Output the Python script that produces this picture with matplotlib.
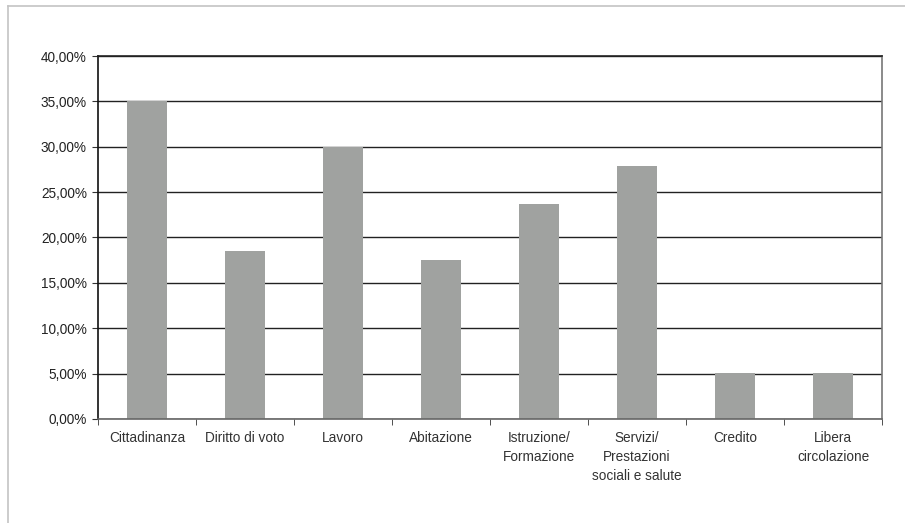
import matplotlib.pyplot as plt
import numpy as np
from matplotlib.ticker import FuncFormatter
from matplotlib.lines import Line2D

# categories and values (percent)
categories = ["Cittadinanza", "Diritto di voto", "Lavoro", "Abitazione",
              "Istruzione/\nFormazione", "Servizi/\nPrestazioni\nsociali e salute",
              "Credito", "Libera\ncircolazione"]
values = [35.0, 18.5, 30.0, 17.5, 23.7, 27.9, 5.1, 5.1]

fig = plt.figure(figsize=(9.05, 5.23), dpi=100)
ax = fig.add_axes([0.1083, 0.1989, 0.8663, 0.694])

x = np.arange(len(categories))
ax.bar(x, values, width=0.41, color="#a0a2a0", zorder=2)

ax.set_xlim(-0.5, len(categories) - 0.5)
ax.set_ylim(0, 40)
ax.set_yticks(np.arange(0, 41, 5))
ax.yaxis.set_major_formatter(FuncFormatter(lambda v, p: ("%.2f" % v).replace(".", ",") + "%"))

# gridlines
ax.grid(axis="y", color="#222222", linewidth=1.0, zorder=1)
ax.set_axisbelow(True)

# category labels centred, tick marks on the boundaries
ax.set_xticks(x)
ax.set_xticklabels(categories, fontsize=9.8, family=["Liberation Sans", "DejaVu Sans"],
                   color="#333333", linespacing=1.45, va="top")
ax.tick_params(axis="x", length=0, pad=9)
ax.set_xticks(np.arange(-0.5, len(categories), 1), minor=True)
ax.tick_params(axis="x", which="minor", length=4, color="#333333", direction="out")
ax.tick_params(axis="y", length=4, color="#333333", labelsize=9.8, pad=4)
for lab in ax.get_yticklabels():
    lab.set_family(["Liberation Sans", "DejaVu Sans"])
    lab.set_color("#222222")

ax.spines["left"].set_color("#111111")
ax.spines["bottom"].set_color("#666666")
ax.spines["top"].set_color("#222222")
ax.spines["right"].set_color("#777777")
for s in ax.spines.values():
    s.set_linewidth(1.2)

# outer light frame
fig.add_artist(Line2D([8 / 905, 1.0], [1 - 6 / 523, 1 - 6 / 523], transform=fig.transFigure,
                      color="#c4c4c4", linewidth=1.2))
fig.add_artist(Line2D([8 / 905, 8 / 905], [0.0, 1 - 6 / 523], transform=fig.transFigure,
                      color="#c4c4c4", linewidth=1.2))

fig.savefig("out.png", dpi=100)
